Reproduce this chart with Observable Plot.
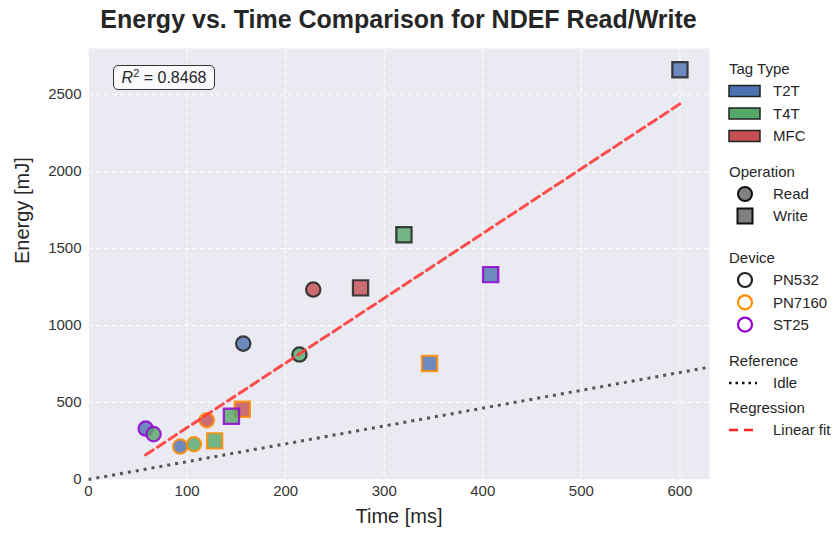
<!DOCTYPE html>
<html>
<head>
<meta charset="utf-8">
<script src="https://cdn.jsdelivr.net/npm/d3@7"></script>
<script src="https://cdn.jsdelivr.net/npm/@observablehq/plot@0.6"></script>
<style>
  body { margin: 0; background: #fff; font-family: "Liberation Sans", Arial, sans-serif; }
  #wrap { position: relative; width: 834px; height: 536px; }
  #title { position: absolute; left: 88px; width: 621px; top: 5px; text-align: center;
           font-weight: bold; font-size: 25px; color: #262626; white-space: nowrap; }
  #r2 { position: absolute; left: 113px; top: 65px; width: 100px; height: 23px; border: 1.3px solid #333;
        border-radius: 5px; background: rgba(255,255,255,0.75); font-size: 16px; color: #262626;
        text-align: center; line-height: 23px; white-space: nowrap; }
  #r2 sup { font-size: 11px; vertical-align: 0; position: relative; top: -6px; }
  #legend { position: absolute; left: 0; top: 0; pointer-events: none; }
</style>
</head>
<body>
<div id="wrap">
  <div id="chart"></div>
  <div id="title">Energy vs. Time Comparison for NDEF Read/Write</div>
  <div id="r2"><i>R</i><sup>2</sup> = 0.8468</div>
  <svg id="legend" width="834" height="536"></svg>
</div>
<script>
// ---- data ----
const devices    = ["PN532","PN532","PN532","PN532","PN532","PN532",
                    "PN7160","PN7160","PN7160","PN7160","PN7160","PN7160",
                    "ST25","ST25","ST25","ST25"];
const tags       = ["T2T","T2T","T4T","T4T","MFC","MFC",
                    "T2T","T2T","T4T","T4T","MFC","MFC",
                    "T2T","T2T","T4T","T4T"];
const operations = ["Read","Write","Read","Write","Read","Write",
                    "Read","Write","Read","Write","Read","Write",
                    "Read","Write","Read","Write"];
const timeMs     = [157, 600, 214, 320, 228, 276,
                    93, 346, 107, 128, 120, 156,
                    58, 408, 66, 145];
const energyMJ   = [883, 2662, 812, 1590, 1234, 1245,
                    214, 753, 229, 251, 385, 456,
                    331, 1331, 295, 411];

const idleTime = [0, 630];
const idleEnergy = [0, 730];
const fitTime = [58, 600];
const fitEnergy = [160, 2440];

const xTicks = [0, 100, 200, 300, 400, 500, 600];
const yTicks = [0, 500, 1000, 1500, 2000, 2500];

const tagTypes = ["T2T", "T4T", "MFC"];
const deviceNames = ["PN532", "PN7160", "ST25"];
const tagColors = ["#4C72B0", "#55A868", "#C44E52"];
const deviceColors = ["#222222", "#FF8C00", "#9400D3"];

// ---- build ----
const tagColor = Object.fromEntries(tagTypes.map((t, i) => [t, tagColors[i]]));
const devColor = Object.fromEntries(deviceNames.map((d, i) => [d, deviceColors[i]]));
const points = devices.map((d, i) => ({device: d, tag: tags[i], op: operations[i], time: timeMs[i], energy: energyMJ[i]}));
const idle = idleTime.map((t, i) => ({time: t, energy: idleEnergy[i]}));
const fit = fitTime.map((t, i) => ({time: t, energy: fitEnergy[i]}));

const chart = Plot.plot({
  width: 834, height: 536,
  marginTop: 48, marginBottom: 57, marginLeft: 88, marginRight: 125,
  style: {fontFamily: "Liberation Sans, Arial, sans-serif", fontSize: "15px", color: "#333", background: "transparent"},
  x: {domain: [0, 630], ticks: xTicks},
  y: {domain: [0, 2800], ticks: yTicks},
  marks: [
    Plot.frame({fill: "#EAEAF2", stroke: null}),
    Plot.gridX(xTicks, {stroke: "#fff", strokeOpacity: 1, strokeWidth: 1, strokeDasharray: "5,3"}),
    Plot.gridY(yTicks, {stroke: "#fff", strokeOpacity: 1, strokeWidth: 1, strokeDasharray: "5,3"}),
    Plot.axisX(xTicks, {tickSize: 0, tickPadding: 6, label: null, fontSize: 15, tickFormat: d3.format("d")}),
    Plot.axisY(yTicks, {tickSize: 0, tickPadding: 7, label: null, fontSize: 15, tickFormat: d3.format("d")}),
    Plot.text(["Time [ms]"], {frameAnchor: "bottom", dy: 43, fontSize: 20, fill: "#262626"}),
    Plot.text(["Energy [mJ]"], {frameAnchor: "left", dx: -66, rotate: -90, fontSize: 20, fill: "#262626"}),
    Plot.line(idle, {x: "time", y: "energy", stroke: "#555", strokeWidth: 3, strokeDasharray: "3,5", strokeLinecap: "butt"}),
    Plot.dot(points.filter(p => p.op === "Read"), {
      x: "time", y: "energy", symbol: "circle", r: 7.2,
      fill: d => tagColor[d.tag], fillOpacity: 0.8,
      stroke: d => devColor[d.device], strokeWidth: 2.2, strokeOpacity: 0.85
    }),
    Plot.dot(points.filter(p => p.op === "Write"), {
      x: "time", y: "energy", symbol: "square", r: 8.6,
      fill: d => tagColor[d.tag], fillOpacity: 0.8,
      stroke: d => devColor[d.device], strokeWidth: 2.2, strokeOpacity: 0.85
    }),
    Plot.line(fit, {x: "time", y: "energy", stroke: "#FF3B3B", strokeOpacity: 0.9, strokeWidth: 3, strokeDasharray: "9,5"})
  ]
});
document.getElementById("chart").appendChild(chart);

// ---- legend ----
const lg = d3.select("#legend");
const fs = 15, txt = "#262626";
function header(y, s) { lg.append("text").attr("x", 729).attr("y", y).attr("dy", "0.35em").attr("font-size", fs).attr("fill", txt).text(s); }
function label(y, s) { lg.append("text").attr("x", 773).attr("y", y).attr("dy", "0.35em").attr("font-size", fs).attr("fill", txt).text(s); }

header(69, "Tag Type");
tagTypes.forEach((t, i) => {
  const y = 91 + i * 22.5;
  lg.append("rect").attr("x", 729).attr("y", y - 5.5).attr("width", 31).attr("height", 11)
    .attr("fill", tagColors[i]).attr("stroke", "#222").attr("stroke-width", 1.5);
  label(y, t);
});
header(172, "Operation");
lg.append("circle").attr("cx", 745).attr("cy", 194).attr("r", 7).attr("fill", "#808080").attr("stroke", "#111").attr("stroke-width", 2);
label(194, "Read");
lg.append("rect").attr("x", 737.5).attr("y", 208.5).attr("width", 15).attr("height", 15).attr("fill", "#808080").attr("stroke", "#111").attr("stroke-width", 2);
label(216, "Write");
header(258, "Device");
deviceNames.forEach((d, i) => {
  const y = 280 + i * 22.3;
  lg.append("circle").attr("cx", 745).attr("cy", y).attr("r", 7).attr("fill", "none").attr("stroke", deviceColors[i]).attr("stroke-width", 2.2);
  label(y, d);
});
header(361, "Reference");
lg.append("line").attr("x1", 729).attr("x2", 757).attr("y1", 383).attr("y2", 383).attr("stroke", "#111").attr("stroke-width", 2.5).attr("stroke-dasharray", "2.5,4");
label(383, "Idle");
header(408, "Regression");
lg.append("line").attr("x1", 729).attr("x2", 757).attr("y1", 430).attr("y2", 430).attr("stroke", "#FF2020").attr("stroke-width", 2.5).attr("stroke-dasharray", "9,6");
label(430, "Linear fit");
</script>
</body>
</html>
